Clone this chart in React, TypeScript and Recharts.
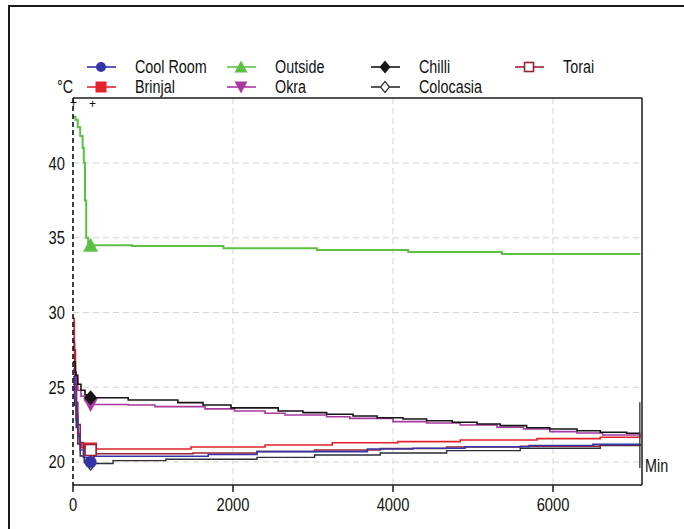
import React from 'react';
import {
  LineChart,
  Line,
  XAxis,
  YAxis,
  CartesianGrid,
  ReferenceLine
} from 'recharts';

const FONT = '"Liberation Sans", Arial, sans-serif';
const SQUEEZE = 0.82; // the original uses a narrow face

// [minute, °C] readings
const coolRoom: [number, number][] = [
  [0, 25.7], [20, 24.2], [40, 22.8], [60, 21.7], [90, 20.8], [130, 20.3], [220, 20.0],
  [260, 20.38], [1690, 20.5], [2300, 20.69], [3680, 20.87], [4250, 20.92], [4900, 21.02],
  [5700, 21.1], [6500, 21.18], [7090, 21.2]
];
const brinjal: [number, number][] = [
  [0, 29.6], [15, 27.5], [30, 25.2], [45, 23.2], [60, 21.9], [80, 21.2], [110, 20.95],
  [220, 20.87], [1475, 21.0], [2400, 21.14], [3240, 21.29], [4060, 21.36], [4840, 21.47],
  [5800, 21.56], [6590, 21.65], [7090, 21.7]
];
const outside: [number, number][] = [
  [0, 43.1], [30, 42.9], [60, 42.4], [90, 41.8], [120, 41.0], [135, 40.0], [150, 37.5],
  [165, 35.0], [190, 34.6], [220, 34.5], [740, 34.45], [1880, 34.3], [3050, 34.18],
  [4190, 34.05], [5360, 33.92], [7090, 33.92]
];
const okra: [number, number][] = [
  [0, 26.2], [30, 25.3], [60, 24.8], [100, 24.4], [150, 24.1], [220, 23.85], [690, 23.81],
  [1025, 23.7], [1650, 23.55], [2020, 23.41], [2400, 23.26], [2650, 23.14], [3170, 23.03],
  [3460, 22.92], [4000, 22.7], [4420, 22.61], [4840, 22.47], [5300, 22.32], [5630, 22.21],
  [5960, 22.03], [6300, 21.94], [6620, 21.81], [7090, 21.74]
];
const chilli: [number, number][] = [
  [0, 26.7], [30, 25.8], [60, 25.2], [100, 24.8], [150, 24.5], [220, 24.3], [690, 24.15],
  [1310, 23.97], [1625, 23.81], [1975, 23.62], [2565, 23.41], [2875, 23.3], [3170, 23.19],
  [3500, 23.08], [3800, 22.96], [4125, 22.88], [4420, 22.76], [4740, 22.66], [5050, 22.54],
  [5340, 22.43], [5670, 22.29], [5960, 22.21], [6300, 22.09], [6590, 21.99], [6920, 21.92],
  [7090, 21.92]
];
const colocasia: [number, number][] = [
  [0, 25.2], [20, 23.8], [40, 22.3], [60, 21.2], [90, 20.4], [140, 20.0], [220, 19.9],
  [500, 20.09], [1160, 20.18], [2300, 20.31], [3020, 20.47], [3840, 20.6], [4670, 20.76],
  [5590, 20.92], [6590, 21.1], [7090, 21.15]
];
const torai: [number, number][] = [
  [0, 28.0], [20, 26.0], [40, 24.0], [60, 22.5], [90, 21.3], [130, 20.9], [220, 20.8],
  [260, 20.55], [1500, 20.6], [2300, 20.7], [3020, 20.8], [3840, 20.9], [4670, 21.0],
  [5590, 21.05], [6590, 21.15], [7090, 21.2]
];

const MARK_T = 220;
const xTicks = [0, 2000, 4000, 6000];
const yTicks = [20, 25, 30, 35, 40];
const xDomain = [0, 7112];
const yDomain = [18.46, 44.35];

type Shape = 'circle' | 'square' | 'triangle' | 'invTriangle' | 'diamond' | 'openDiamond' | 'openSquare';

const series = [
  { name: 'Cool Room', data: coolRoom, color: '#3434a8', shape: 'circle' as Shape, width: 1.6 },
  { name: 'Brinjal', data: brinjal, color: '#e3222b', shape: 'square' as Shape, width: 1.6 },
  { name: 'Outside', data: outside, color: '#5cc043', shape: 'triangle' as Shape, width: 2 },
  { name: 'Okra', data: okra, color: '#a8379f', shape: 'invTriangle' as Shape, width: 1.6 },
  { name: 'Chilli', data: chilli, color: '#151515', shape: 'diamond' as Shape, width: 1.6 },
  { name: 'Colocasia', data: colocasia, color: '#2d2d3a', shape: 'openDiamond' as Shape, width: 1.4 },
  { name: 'Torai', data: torai, color: '#9a2236', shape: 'openSquare' as Shape, width: 1.6 }
];
// paint order on the plot (legend keeps the series order)
const drawOrder = [5, 1, 6, 3, 4, 2, 0];

function Marker({ shape, x, y, color, s = 11 }: { shape: Shape; x: number; y: number; color: string; s?: number }) {
  const h = s / 2;
  switch (shape) {
    case 'circle':
      return <circle cx={x} cy={y} r={h - 0.5} fill={color} />;
    case 'square':
      return <rect x={x - h} y={y - h} width={s} height={s} fill={color} />;
    case 'openSquare':
      return <rect x={x - h + 1} y={y - h + 1} width={s - 2} height={s - 2} fill="#fff" stroke={color} strokeWidth={1.6} />;
    case 'triangle':
      return <polygon points={`${x},${y - h - 1} ${x + h + 1},${y + h} ${x - h - 1},${y + h}`} fill={color} />;
    case 'invTriangle':
      return <polygon points={`${x - h - 1},${y - h} ${x + h + 1},${y - h} ${x},${y + h + 1}`} fill={color} />;
    case 'diamond':
      return <polygon points={`${x},${y - h - 1} ${x + h},${y} ${x},${y + h + 1} ${x - h},${y}`} fill={color} />;
    case 'openDiamond':
      return <polygon points={`${x},${y - h} ${x + h - 1},${y} ${x},${y + h} ${x - h + 1},${y}`} fill="#fff" stroke={color} strokeWidth={1.2} />;
  }
  return null;
}

const makeDot = (shape: Shape, color: string) => (props: any) => {
  const { cx, cy, payload, index } = props;
  if (!payload || payload.t !== MARK_T) return <g key={`n-${index}`} />;
  return (
    <g key={`m-${index}`}>
      <Marker shape={shape} x={cx} y={cy} color={color} s={13} />
    </g>
  );
};

const XTick = (props: any) => {
  const { x, y, payload } = props;
  return (
    <text transform={`translate(${x},${y}) scale(${SQUEEZE},1)`} textAnchor="middle" dy="0.8em"
      fontFamily={FONT} fontSize={18} fill="#111">
      {payload.value}
    </text>
  );
};

const YTick = (props: any) => {
  const { x, y, payload } = props;
  return (
    <text transform={`translate(${x},${y}) scale(${SQUEEZE},1)`} textAnchor="end" dy="0.36em"
      fontFamily={FONT} fontSize={18} fill="#111">
      {payload.value}
    </text>
  );
};

const legendRows = [
  { y: 67, cols: [0, 2, 4, 6] },
  { y: 87, cols: [1, 3, 5] }
];
const legendX = [86, 226, 370, 514];

function Label({ left, top, text }: { left: number; top: number; text: string }) {
  return (
    <div style={{
      position: 'absolute', left, top, fontFamily: FONT, fontSize: 17.5, color: '#111',
      lineHeight: '20px', whiteSpace: 'nowrap', transform: `scaleX(${SQUEEZE})`, transformOrigin: 'left center'
    }}>{text}</div>
  );
}

function ChartLegend() {
  return (
    <>
      {legendRows.map((row) =>
        row.cols.map((si, ci) => {
          const s = series[si];
          return (
            <React.Fragment key={s.name}>
              <svg width={32} height={20} style={{ position: 'absolute', left: legendX[ci], top: row.y - 10 }}>
                <line x1={1} y1={10} x2={30} y2={10} stroke={s.color} strokeWidth={1.6} />
                <Marker shape={s.shape} x={15} y={10} color={s.color} s={11} />
              </svg>
              <Label left={legendX[ci] + 49} top={row.y - 10} text={s.name} />
            </React.Fragment>
          );
        })
      )}
    </>
  );
}

export default function App() {
  return (
    <div style={{ position: 'absolute', left: 0, top: 0, width: 684, height: 529, overflow: 'hidden', background: '#fff' }}>
      <div
        style={{
          position: 'absolute', left: 8, top: 5, width: 700, height: 560,
          borderLeft: '2px solid #1a1a1a', borderTop: '2px solid #1a1a1a'
        }}
      />
      <div style={{ position: 'absolute', left: 0, top: 0 }}>
        <LineChart width={684} height={529} margin={{ top: 98, right: 42, bottom: 0, left: 23 }}>
          <CartesianGrid
            stroke="#d4d4d4"
            strokeDasharray="6 4"
            horizontalValues={yTicks}
            verticalValues={[2000, 4000, 6000]}
          />
          <XAxis
            type="number"
            dataKey="t"
            domain={xDomain}
            ticks={xTicks}
            allowDataOverflow
            height={44}
            tick={<XTick />}
            tickSize={7}
            tickMargin={5}
            axisLine={{ stroke: '#1a1a1a', strokeWidth: 1.5 }}
            tickLine={{ stroke: '#1a1a1a', strokeWidth: 1.5 }}
          />
          <YAxis
            type="number"
            domain={yDomain}
            ticks={yTicks}
            allowDataOverflow
            width={50}
            tick={<YTick />}
            tickLine={false}
            tickSize={6}
            tickMargin={2}
            axisLine={{ stroke: '#000', strokeWidth: 1.5, strokeDasharray: '5 3' }}
          />
          <ReferenceLine y={yDomain[1]} stroke="#1a1a1a" strokeWidth={1.5} ifOverflow="visible" />
          <ReferenceLine x={xDomain[1]} stroke="#1a1a1a" strokeWidth={1.5} ifOverflow="visible" />
          {drawOrder.map((i) => {
            const s = series[i];
            return (
              <Line
                key={s.name}
                name={s.name}
                data={s.data.map(([t, v]) => ({ t, v }))}
                dataKey="v"
                type="stepAfter"
                stroke={s.color}
                strokeWidth={s.width}
                dot={makeDot(s.shape, s.color)}
                activeDot={false}
                isAnimationActive={false}
              />
            );
          })}
          <ReferenceLine
            segment={[{ x: 7085, y: 19.6 }, { x: 7085, y: 24.0 }]}
            stroke="#333"
            strokeWidth={1.3}
          />
        </LineChart>
      </div>
      <ChartLegend />
      <Label left={57} top={77} text="°C" />
      <div style={{ position: 'absolute', left: 70, top: 96, fontFamily: FONT, fontSize: 12, color: '#111' }}>+</div>
      <div style={{ position: 'absolute', left: 89, top: 97, fontFamily: FONT, fontSize: 12, color: '#111' }}>+</div>
      <Label left={645} top={456} text="Min" />
    </div>
  );
}
